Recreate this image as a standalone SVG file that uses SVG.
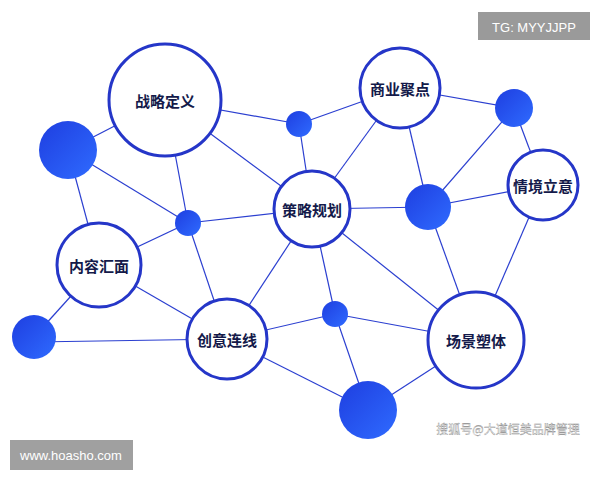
<svg xmlns="http://www.w3.org/2000/svg" width="600" height="480" viewBox="0 0 600 480">
<defs>
<linearGradient id="g" x1="0" y1="0" x2="1" y2="1"><stop offset="0" stop-color="#1e3ee0"/><stop offset="1" stop-color="#2f6bff"/></linearGradient>
<style>
.e{stroke:#2b3fd0;stroke-width:1.2}
.n{fill:#fff;stroke:#2536c8;stroke-width:3}
.d{fill:url(#g)}
.t{font-family:"Noto Sans CJK SC",sans-serif;font-weight:bold;font-size:15px;fill:#141a4a;text-anchor:middle;dominant-baseline:central}
</style>
</defs>
<rect width="600" height="480" fill="#fff"/>
<g id="edges" class="e">
<line x1="165" y1="100" x2="299" y2="124"/><line x1="299" y1="124" x2="400" y2="88"/><line x1="299" y1="124" x2="312" y2="209"/>
<line x1="165" y1="100" x2="312" y2="209"/><line x1="165" y1="100" x2="188" y2="223"/><line x1="68" y1="150" x2="188" y2="223"/>
<line x1="68" y1="150" x2="165" y2="100"/><line x1="68" y1="150" x2="99" y2="265"/><line x1="99" y1="265" x2="188" y2="223"/>
<line x1="188" y1="223" x2="312" y2="209"/><line x1="188" y1="223" x2="227" y2="339"/><line x1="99" y1="265" x2="227" y2="339"/>
<line x1="99" y1="265" x2="34" y2="337"/><line x1="34" y1="342" x2="227" y2="339"/><line x1="227" y1="339" x2="312" y2="209"/>
<line x1="227" y1="339" x2="335" y2="314"/><line x1="335" y1="314" x2="476" y2="340"/><line x1="335" y1="314" x2="368" y2="410"/>
<line x1="227" y1="339" x2="368" y2="410"/><line x1="368" y1="410" x2="476" y2="340"/><line x1="312" y1="209" x2="335" y2="314"/>
<line x1="312" y1="209" x2="476" y2="340"/><line x1="312" y1="209" x2="428" y2="207"/><line x1="312" y1="209" x2="400" y2="88"/>
<line x1="400" y1="88" x2="428" y2="207"/><line x1="400" y1="88" x2="514" y2="108"/><line x1="514" y1="108" x2="543" y2="185"/>
<line x1="428" y1="207" x2="514" y2="108"/><line x1="428" y1="207" x2="543" y2="185"/><line x1="428" y1="207" x2="476" y2="340"/>
<line x1="543" y1="185" x2="476" y2="340"/>
</g>
<g id="dot1"><circle class="d" cx="68" cy="150" r="29"/></g>
<g id="dot2"><circle class="d" cx="299" cy="124" r="13"/></g>
<g id="dot3"><circle class="d" cx="514" cy="108" r="19"/></g>
<g id="dot4"><circle class="d" cx="428" cy="207" r="23"/></g>
<g id="dot5"><circle class="d" cx="188" cy="223" r="13"/></g>
<g id="dot6"><circle class="d" cx="34" cy="337" r="22"/></g>
<g id="dot7"><circle class="d" cx="335" cy="314" r="13"/></g>
<g id="dot8"><circle class="d" cx="368" cy="410" r="29"/></g>
<g id="n1"><circle class="n" cx="165" cy="100" r="56"/><text class="t" x="165" y="100">战略定义</text></g>
<g id="n2"><circle class="n" cx="400" cy="88" r="40"/><text class="t" x="400" y="88">商业聚点</text></g>
<g id="n3"><circle class="n" cx="543" cy="185" r="35"/><text class="t" x="543" y="185">情境立意</text></g>
<g id="n4"><circle class="n" cx="312" cy="209" r="38"/><text class="t" x="312" y="209">策略规划</text></g>
<g id="n5"><circle class="n" cx="99" cy="265" r="42"/><text class="t" x="99" y="265">内容汇面</text></g>
<g id="n6"><circle class="n" cx="227" cy="339" r="40"/><text class="t" x="227" y="339">创意连线</text></g>
<g id="n7"><circle class="n" cx="476" cy="340" r="48"/><text class="t" x="476" y="340">场景塑体</text></g>
<g id="wm">
<rect x="478" y="12" width="112" height="28" fill="#9a9a9a"/>
<text x="534" y="27" font-family="Liberation Sans,sans-serif" font-size="13" fill="#fff" text-anchor="middle" dominant-baseline="central">TG: MYYJJPP</text>
<rect x="10" y="440" width="123" height="30" fill="#a0a0a0"/>
<text x="71" y="455" font-family="Liberation Sans,sans-serif" font-size="13" fill="#fff" text-anchor="middle" dominant-baseline="central">www.hoasho.com</text>
<text x="508" y="428" font-family="Noto Sans CJK SC,sans-serif" font-size="12" fill="#fff" stroke="#888" stroke-width="0.35" text-anchor="middle" dominant-baseline="central">搜狐号@大道恒美品牌管理</text>
</g>
</svg>
